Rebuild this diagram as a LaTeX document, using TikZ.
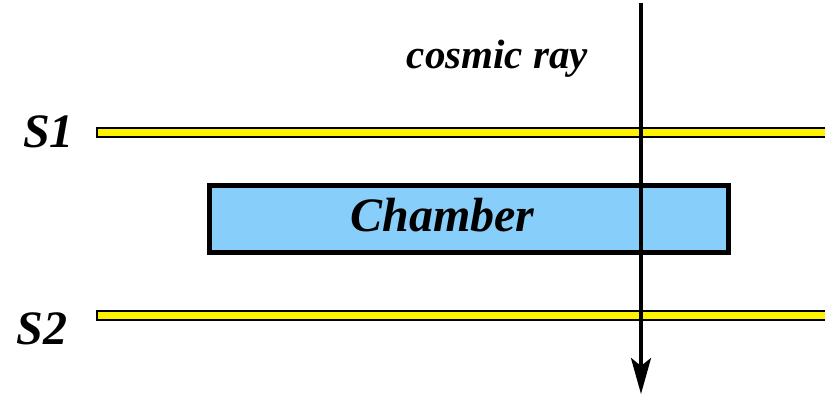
\documentclass[tikz,border=0pt]{standalone}
\usepackage{fontspec}
\setmainfont{Liberation Serif}
\usetikzlibrary{arrows.meta, positioning}
\definecolor{chamberblue}{RGB}{135,206,250}

\begin{document}
\begin{tikzpicture}[
  % one unit is one pixel of the 825x395 reference, y grows downwards
  x=1pt, y=-1pt, font=\bfseries\itshape,
  bar/.style={draw, line width=2pt, fill=yellow, anchor=west, inner sep=0pt,
    minimum width=732pt, minimum height=9pt},
  chbox/.style={draw, line width=5pt, fill=chamberblue, inner sep=0pt,
    minimum width=519pt, minimum height=67pt},
  big/.style={inner sep=0pt, anchor=base, font=\bfseries\itshape\fontsize{48}{48}\selectfont},
  small/.style={inner sep=0pt, anchor=base, font=\bfseries\itshape\fontsize{41}{41}\selectfont},
  ray/.style={-{Stealth[length=36pt, width=20pt, inset=8pt]}, line width=3.5pt},
]
\useasboundingbox (0,0) rectangle (825,395);
% scintillators and chamber
\node[bar] (s1bar) at (96,132.5) {};
\node[bar] (s2bar) at (96,315.5) {};
\node[chbox] (chamber) at (469,219) {};
\node[big] (chtext) at (442.5,232) {Chamber};
% labels
\node[big] (s1) at (48.5,148) {S1};
\node[big] (s2) at (42,345) {S2};
\node[small] (cosmic) at (497.5,69) {cosmic ray};
% the track
\coordinate (top) at (641,3);
\coordinate (bot) at (641,394);
\draw[ray] (top) -- (bot);
\end{tikzpicture}
\end{document}
